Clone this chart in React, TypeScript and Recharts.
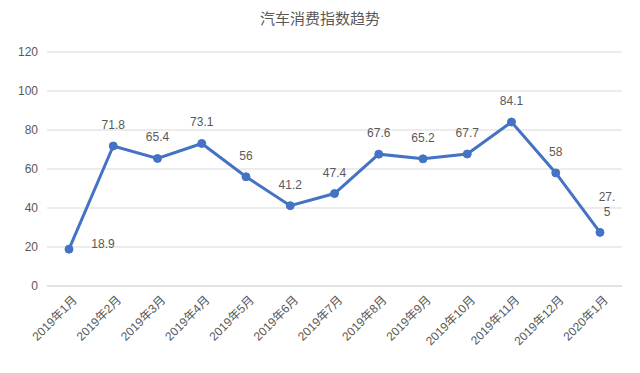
import React from 'react';
import { LineChart, Line, XAxis, YAxis, CartesianGrid, LabelList } from 'recharts';

const categories = ['2019年1月','2019年2月','2019年3月','2019年4月','2019年5月','2019年6月','2019年7月','2019年8月','2019年9月','2019年10月','2019年11月','2019年12月','2020年1月'];
const values = [18.9, 71.8, 65.4, 73.1, 56, 41.2, 47.4, 67.6, 65.2, 67.7, 84.1, 58, 27.5];
const yTicks = [0, 20, 40, 60, 80, 100, 120];

const data = categories.map((c, i) => ({ name: c, value: values[i] }));

const FONT = "'Liberation Sans', 'Noto Sans CJK SC', sans-serif";
const TEXT = '#595959';
const BLUE = '#4472C4';

const XTick = (props: any) => {
  const { x, y, payload } = props;
  return (
    <text x={x + 6} y={y + 4} transform={`rotate(-45 ${x + 6} ${y + 4})`} textAnchor="end" dominantBaseline="central"
      fontSize={12} fill={TEXT} fontFamily={FONT}>{payload.value}</text>
  );
};

const ValueLabel = (props: any) => {
  const { x, y, value, index } = props;
  if (index === 0) {
    return <text x={x + 34} y={y - 5} textAnchor="middle" dominantBaseline="central" fontSize={12} fill={TEXT} fontFamily={FONT}>{value}</text>;
  }
  if (index === values.length - 1) {
    const s = String(value);
    return (
      <text textAnchor="middle" fontSize={12} fill={TEXT} fontFamily={FONT}>
        <tspan x={x + 7} y={y - 35} dominantBaseline="central">{s.slice(0, 3)}</tspan>
        <tspan x={x + 7} y={y - 20} dominantBaseline="central">{s.slice(3)}</tspan>
      </text>
    );
  }
  return <text x={x} y={y - 21} textAnchor="middle" dominantBaseline="central" fontSize={12} fill={TEXT} fontFamily={FONT}>{value}</text>;
};

export default function App() {
  return (
    <div style={{ position: 'absolute', left: 0, top: 0, width: 640, height: 373, background: '#fff' }}>
      <div style={{ position: 'absolute', left: 0, top: 7, width: 640, textAlign: 'center', fontSize: 15, color: TEXT, fontFamily: FONT }}>汽车消费指数趋势</div>
      <LineChart width={640} height={373} data={data} margin={{ top: 52, right: 18, bottom: 0, left: 0 }}>
        <CartesianGrid vertical={false} stroke="#d9d9d9" />
        <XAxis dataKey="name" axisLine={{ stroke: '#d9d9d9' }} tickLine={false} interval={0} height={87} tick={<XTick />}
          padding={{ left: 22, right: 22 }} />
        <YAxis domain={[0, 120]} ticks={yTicks} width={47} axisLine={false} tickLine={false} tickSize={0} tickMargin={9}
          tick={{ fontSize: 12, fill: TEXT, fontFamily: FONT }} />
        <Line type="linear" dataKey="value" stroke={BLUE} strokeWidth={3} dot={{ r: 4, fill: BLUE, stroke: BLUE, strokeWidth: 1 }} isAnimationActive={false}>
          <LabelList dataKey="value" content={<ValueLabel />} />
        </Line>
      </LineChart>
    </div>
  );
}
